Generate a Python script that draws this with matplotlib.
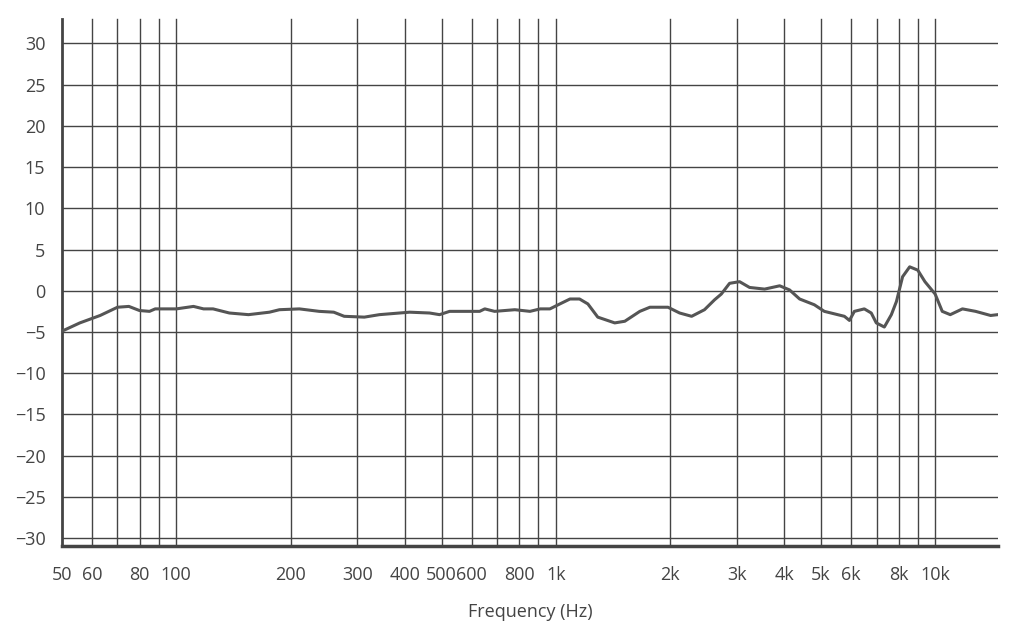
import matplotlib
matplotlib.use("Agg")
import matplotlib.pyplot as plt
import numpy as np
from matplotlib.ticker import FixedLocator, NullFormatter

plt.rcParams['font.family'] = ['Open Sans', 'DejaVu Sans']

freq = [50, 55.7, 63, 70, 75, 80, 85, 88, 100, 111, 118, 125, 138, 155, 176, 187, 211, 238, 260, 277,
        313, 343, 412, 465, 494, 525, 630, 650, 690, 780, 855, 910, 965, 1025, 1090, 1155, 1215, 1290,
        1430, 1520, 1665, 1770, 1975, 2120, 2280, 2465, 2620, 2730, 2870, 3050, 3240, 3550, 3890, 4130,
        4390, 4800, 5100, 5760, 5940, 6120, 6500, 6780, 6990, 7340, 7660, 7900, 8200, 8560, 8990, 9390,
        9990, 10430, 10950, 11790, 12770, 13990, 14600]
db = [-4.9, -3.9, -3.0, -2.0, -1.9, -2.4, -2.5, -2.2, -2.2, -1.9, -2.2, -2.2, -2.7, -2.9, -2.6, -2.3,
      -2.2, -2.5, -2.6, -3.1, -3.2, -2.9, -2.6, -2.7, -2.9, -2.5, -2.5, -2.2, -2.5, -2.3, -2.5, -2.2,
      -2.2, -1.6, -1.0, -1.0, -1.6, -3.2, -3.9, -3.7, -2.5, -2.0, -2.0, -2.7, -3.1, -2.3, -1.1, -0.4,
      0.9, 1.1, 0.4, 0.2, 0.6, 0.1, -1.0, -1.7, -2.5, -3.1, -3.6, -2.5, -2.2, -2.7, -3.9, -4.4, -2.9,
      -1.3, 1.7, 2.9, 2.5, 1.1, -0.4, -2.5, -2.9, -2.2, -2.5, -3.0, -2.9]

tick_vals = [50, 60, 80, 100, 200, 300, 400, 500, 600, 800, 1000, 2000, 3000, 4000, 5000, 6000, 8000, 10000]
tick_labels = ['50', '60', '80', '100', '200', '300', '400', '500', '600', '800', '1k', '2k', '3k', '4k',
               '5k', '6k', '8k', '10k']
grid_freqs = [60, 70, 80, 90, 100, 200, 300, 400, 500, 600, 700, 800, 900, 1000, 2000, 3000, 4000, 5000,
              6000, 7000, 8000, 9000, 10000]
y_ticks = list(range(-30, 31, 5))

fig = plt.figure(figsize=(10.17, 6.39), dpi=100)
ax = fig.add_axes([0.061, 0.145, 0.920, 0.80])
ax.set_xscale('log')
ax.set_xlim(50, 14600)
ax.set_ylim(-31, 31)
gc = '#444444'
for f in grid_freqs:
    ax.plot([f, f], [-31, 33], color=gc, lw=1.0, clip_on=False, zorder=1)
for y in y_ticks:
    ax.axhline(y, color=gc, lw=1.0, zorder=1)
ax.plot(freq, db, color='#555555', lw=2.2, zorder=3)
ax.xaxis.set_major_locator(FixedLocator(tick_vals))
ax.set_xticklabels(tick_labels)
ax.xaxis.set_minor_formatter(NullFormatter())
ax.tick_params(axis='x', which='both', length=0, labelsize=13, colors='#444444', pad=14)
ax.set_yticks(y_ticks)
ax.set_yticklabels([str(v).replace('-', '−') for v in y_ticks])
ax.tick_params(axis='y', length=0, labelsize=13, colors='#444444', pad=12)
for s in ['top', 'right']:
    ax.spines[s].set_visible(False)
ax.spines['left'].set_bounds(-31, 33)
ax.spines['left'].set_linewidth(2)
ax.spines['bottom'].set_linewidth(2.5)
for s in ['left', 'bottom']:
    ax.spines[s].set_color('#444444')
ax.set_xlabel('Frequency (Hz)', fontsize=13, color='#444444', labelpad=14)
fig.savefig('out.png', dpi=100)
